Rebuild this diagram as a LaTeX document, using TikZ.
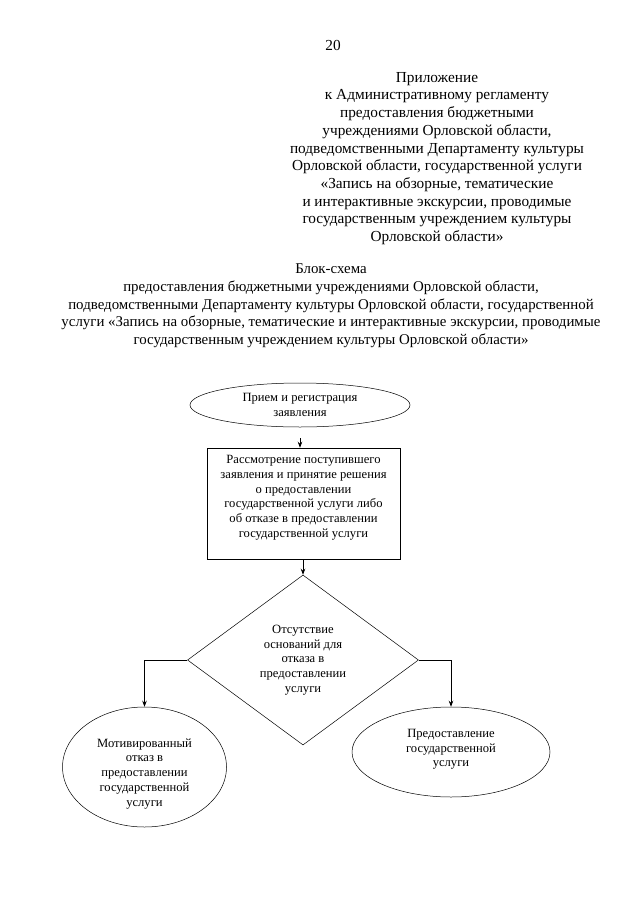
\documentclass[tikz,border=0pt]{standalone}
\usepackage{fontspec}
\setmainfont{Liberation Serif}
\usetikzlibrary{shapes.geometric,arrows.meta}
\begin{document}
\begin{tikzpicture}[x=1pt,y=-1pt,
  hdr/.style={align=center,inner sep=0pt,font=\fontsize{15.3}{17.7}\selectfont},
  ttl/.style={align=center,inner sep=0pt,font=\fontsize{14.9}{17.6}\selectfont},
  lbl/.style={align=center,inner sep=0pt,font=\fontsize{12.6}{14.7}\selectfont},
  shp/.style={draw,line width=0.5pt},
  arr/.style={line width=0.7pt,-{Stealth[length=6pt,width=4.5pt]}}]
\useasboundingbox[fill=white] (0,0) rectangle (640,905);
\node[hdr] (num) at (333,45) {20};
\node[hdr,anchor=north] (app) at (437,72) {Приложение\\
к Административному регламенту\\
предоставления бюджетными\\
учреждениями Орловской области,\\
подведомственными Департаменту культуры\\
Орловской области, государственной услуги\\
«Запись на обзорные, тематические\\
и интерактивные экскурсии, проводимые\\
государственным учреждением культуры\\
Орловской области»};
\node[ttl,anchor=north] (title) at (331,264) {Блок-схема\\
предоставления бюджетными учреждениями Орловской области,\\
подведомственными Департаменту культуры Орловской области, государственной\\
услуги «Запись на обзорные, тематические и интерактивные экскурсии, проводимые\\
государственным учреждением культуры Орловской области»};

\node[shp,lbl,ellipse,minimum width=220pt,minimum height=44pt] (e1) at (300,405) {Прием и регистрация\\заявления};
\node[shp,lbl,rectangle,minimum width=193pt,minimum height=111pt] (box) at (303.5,503.5)
  {Рассмотрение поступившего\\заявления и принятие решения\\о предоставлении\\государственной услуги либо\\об отказе в предоставлении\\государственной услуги\rule[-14pt]{0pt}{14pt}};
\node[shp,lbl,diamond,minimum width=231pt,minimum height=170pt] (dia) at (303,660)
  {Отсутствие\\оснований для\\отказа в\\предоставлении\\услуги};
\node[shp,lbl,ellipse,minimum width=164pt,minimum height=120pt] (e2) at (144.5,767)
  {\rule{0pt}{22pt}Мотивированный\\отказ в\\предоставлении\\государственной\\услуги};
\node[shp,lbl,ellipse,minimum width=198pt,minimum height=90pt] (e3) at (451,752)
  {Предоставление\\государственной\\услуги\rule[-8pt]{0pt}{8pt}};

\coordinate (a1) at (300,438);
\draw[arr] (a1) -- (a1 |- box.north);
\draw[arr] (box.south -| dia.north) -- (dia.north);
\draw[arr] (dia.west) -| (e2.north);
\draw[arr] (dia.east) -| (e3.north);
\end{tikzpicture}
\end{document}
